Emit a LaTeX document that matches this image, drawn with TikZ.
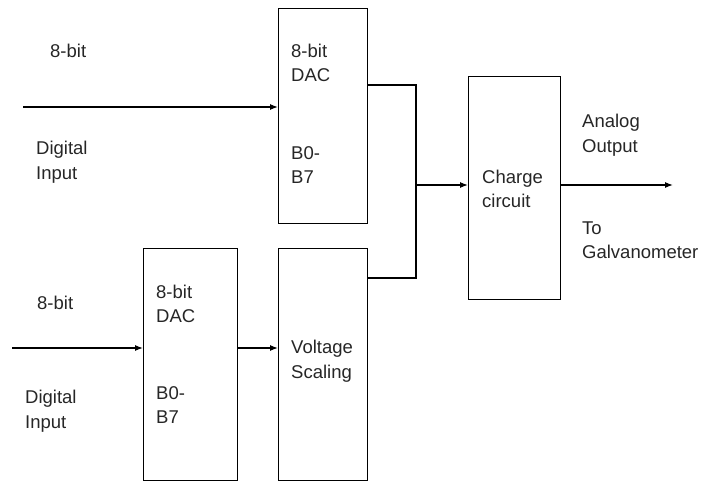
\documentclass[tikz,border=0pt]{standalone}
\usepackage{fontspec}
\setmainfont{Liberation Sans}
\usetikzlibrary{arrows.meta}
\tikzset{
    blk/.style={draw, line width=1.2pt, inner sep=0pt, anchor=north west},
    lbl/.style={anchor=west, align=left, inner sep=0pt, text=black!85,
        font=\fontsize{18.5}{24.5}\selectfont},
    wire/.style={line width=1.2pt},
    arr/.style={wire, -{Latex[length=8pt,width=6pt]}}
}
\begin{document}
\begin{tikzpicture}[x=1pt, y=-1pt]
    \useasboundingbox (0,0) rectangle (705,480);
    \node[blk, minimum width=89pt, minimum height=215pt] (dacA) at (278,8) {};
    \node[blk, minimum width=94pt, minimum height=232pt] (dacB) at (143,248) {};
    \node[blk, minimum width=89pt, minimum height=232pt] (scale) at (278,248) {};
    \node[blk, minimum width=92pt, minimum height=223pt] (charge) at (468,76) {};
    \node[lbl] (bitA) at (50,51) {8-bit};
    \node[lbl] (digA) at (36,162) {Digital\\Input};
    \node[lbl] (dacAtop) at (291,63) {8-bit\\DAC};
    \node[lbl] (dacAbot) at (291,165) {B0-\\B7};
    \node[lbl] (bitB) at (37,303) {8-bit};
    \node[lbl] (digB) at (25,411) {Digital\\Input};
    \node[lbl] (dacBtop) at (156,304) {8-bit\\DAC};
    \node[lbl] (dacBbot) at (156,405) {B0-\\B7};
    \node[lbl] (scaletxt) at (291,361) {Voltage\\Scaling};
    \node[lbl] (chargetxt) at (482,189) {Charge\\circuit};
    \node[lbl] (outtxt) at (582,135) {Analog\\Output};
    \node[lbl] (galvtxt) at (582,240) {To\\Galvanometer};
    \coordinate (inA) at (23,107);
    \coordinate (inB) at (12,348);
    \coordinate (jA) at (416,85);
    \coordinate (jB) at (416,278);
    \coordinate (jn) at (416,185);
    \coordinate (out) at (673,185);
    \draw[arr] (inA) -- (inA -| dacA.west);
    \draw[arr] (inB) -- (inB -| dacB.west);
    \draw[arr] (inB -| dacB.east) -- (inB -| scale.west);
    \draw[wire] (jA -| dacA.east) -- (jA) -- (jB) -- (jB -| scale.east);
    \draw[arr] (jn) -- (jn -| charge.west);
    \draw[arr] (out -| charge.east) -- (out);
\end{tikzpicture}
\end{document}
